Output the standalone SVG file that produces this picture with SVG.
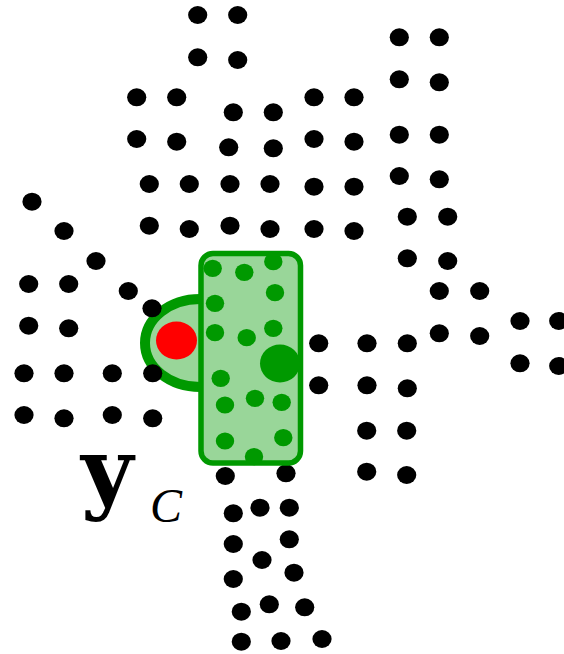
<svg xmlns="http://www.w3.org/2000/svg" width="564" height="654" viewBox="0 0 564 654">
<style>
.b{fill:#000}
.g{fill:#009900}
.ring{fill:#99d699;stroke:#009900;stroke-width:10}
.box{fill:#99d699;stroke:#009900;stroke-width:5.5}
.t{font-family:"DejaVu Serif",serif;font-weight:bold;font-size:90px;fill:#000}
.s{font-family:"Liberation Serif",serif;font-style:italic;font-size:48px;fill:#000}
</style>
<defs>
<ellipse id="d" rx="9.6" ry="9" class="b"/>
<ellipse id="gd" rx="9.2" ry="8.6" class="g"/>
</defs>
<g id="region">
<ellipse class="ring" cx="200" cy="343" rx="55" ry="44"/>
<ellipse cx="176.5" cy="340.5" rx="20.5" ry="19" fill="#ff0000"/>
</g>
<g id="points">
<use href="#d" x="197.7" y="15"/><use href="#d" x="237.7" y="15"/>
<use href="#d" x="197.7" y="57.3"/><use href="#d" x="237.7" y="60"/>
<use href="#d" x="136.7" y="97.3"/><use href="#d" x="176.7" y="97.3"/>
<use href="#d" x="233.3" y="112.3"/><use href="#d" x="273.3" y="112.3"/>
<use href="#d" x="136.7" y="139"/><use href="#d" x="176.7" y="141.7"/>
<use href="#d" x="228.7" y="147.3"/><use href="#d" x="273.3" y="148.3"/>
<use href="#d" x="149.3" y="184"/><use href="#d" x="189.3" y="184"/>
<use href="#d" x="230" y="184"/><use href="#d" x="270" y="184"/>
<use href="#d" x="32" y="201.7"/><use href="#d" x="64" y="231"/>
<use href="#d" x="149.3" y="225.7"/><use href="#d" x="189.3" y="229"/>
<use href="#d" x="230" y="225.7"/><use href="#d" x="270" y="229"/>
<use href="#d" x="399.3" y="37.3"/><use href="#d" x="439.3" y="37.3"/>
<use href="#d" x="399.3" y="79.3"/><use href="#d" x="439.3" y="82.3"/>
<use href="#d" x="314" y="97.3"/><use href="#d" x="354" y="97.3"/>
<use href="#d" x="399.3" y="134.7"/><use href="#d" x="439.3" y="134.7"/>
<use href="#d" x="314" y="139"/><use href="#d" x="354" y="141.7"/>
<use href="#d" x="399.3" y="176"/><use href="#d" x="439.3" y="179.3"/>
<use href="#d" x="314" y="186.7"/><use href="#d" x="354" y="186.7"/>
<use href="#d" x="407.3" y="216.7"/><use href="#d" x="447.7" y="216.7"/>
<use href="#d" x="314" y="229"/><use href="#d" x="354" y="231"/>
<use href="#d" x="96" y="261"/>
<use href="#d" x="28.7" y="284"/><use href="#d" x="68.7" y="284"/>
<use href="#d" x="128.3" y="291"/><use href="#d" x="152" y="308.3"/>
<use href="#d" x="28.7" y="325.7"/><use href="#d" x="68.7" y="328.3"/>
<use href="#d" x="24" y="373.3"/><use href="#d" x="64" y="373.3"/>
<use href="#d" x="112.3" y="373.3"/><use href="#d" x="152.7" y="373.3"/>
<use href="#d" x="24" y="415"/><use href="#d" x="64" y="418.3"/>
<use href="#d" x="112.3" y="415"/><use href="#d" x="152.7" y="418.3"/>
<use href="#d" x="407.3" y="258.3"/><use href="#d" x="447.7" y="261"/>
<use href="#d" x="439.3" y="291"/><use href="#d" x="479.7" y="291"/>
<use href="#d" x="520" y="321"/><use href="#d" x="558.7" y="321"/>
<use href="#d" x="439.3" y="333.3"/><use href="#d" x="479.7" y="336"/>
<use href="#d" x="318.7" y="343.3"/><use href="#d" x="367" y="343.3"/>
<use href="#d" x="407.3" y="343.3"/>
<use href="#d" x="520" y="363.3"/><use href="#d" x="558.7" y="366"/>
<use href="#d" x="318.7" y="385.3"/><use href="#d" x="367" y="385.3"/>
<use href="#d" x="407.3" y="388.3"/>
<use href="#d" x="366.7" y="430.7"/><use href="#d" x="406.7" y="430.7"/>
<use href="#d" x="366.7" y="471.7"/><use href="#d" x="406.7" y="475"/>
<use href="#d" x="225.3" y="476"/><use href="#d" x="286" y="473.3"/>
<use href="#d" x="233.3" y="513.3"/><use href="#d" x="260" y="507.7"/>
<use href="#d" x="289.3" y="507.7"/>
<use href="#d" x="233.3" y="544"/><use href="#d" x="289.3" y="539.3"/>
<use href="#d" x="262" y="560"/>
<use href="#d" x="233.3" y="579"/><use href="#d" x="294" y="572.7"/>
<use href="#d" x="241.3" y="611.7"/><use href="#d" x="269.3" y="604.3"/>
<use href="#d" x="304.7" y="607.3"/>
<use href="#d" x="241.3" y="641.7"/><use href="#d" x="281" y="641"/>
<use href="#d" x="322" y="639"/>
</g>
<g id="cluster">
<rect class="box" x="201" y="253.5" width="99.5" height="209.5" rx="12"/>
<use href="#gd" x="212.7" y="268.3"/><use href="#gd" x="244.3" y="272.3"/>
<use href="#gd" x="273.3" y="261.7"/><use href="#gd" x="275" y="292.7"/>
<use href="#gd" x="215" y="303.3"/><use href="#gd" x="215" y="332.7"/>
<use href="#gd" x="246.7" y="337.7"/><use href="#gd" x="273.3" y="328.3"/>
<ellipse class="g" cx="280" cy="363.5" rx="20" ry="19"/>
<use href="#gd" x="220.7" y="378.3"/><use href="#gd" x="225" y="405"/>
<use href="#gd" x="255" y="398.3"/><use href="#gd" x="281.7" y="402.3"/>
<use href="#gd" x="225" y="441"/><use href="#gd" x="283.3" y="437.7"/>
<use href="#gd" x="254" y="456.7"/>
</g>
<g id="label">
<text class="t" x="81" y="502">y</text>
<text class="s" x="150" y="522">C</text>
</g>
</svg>
